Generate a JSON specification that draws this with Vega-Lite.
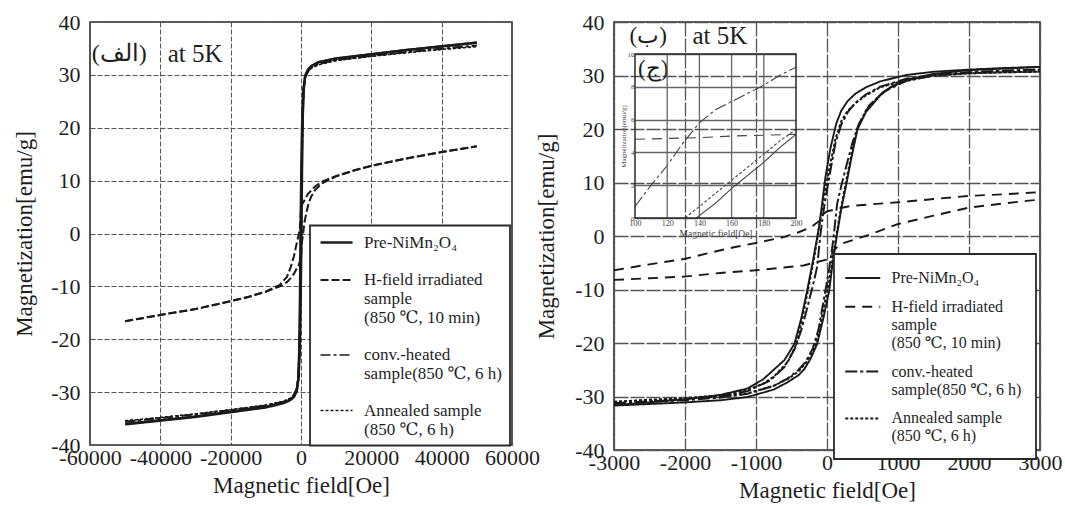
{
  "$schema": "https://vega.github.io/schema/vega-lite/v6.json",
  "background": "white",
  "padding": {"left": 12, "top": 10, "right": 0, "bottom": 0},
  "config": {
    "font": "Times New Roman, Liberation Serif, DejaVu Serif, serif",
    "view": {"stroke": "#2a2a2a", "strokeWidth": 1.6},
    "axis": {
      "labelFont": "Times New Roman, Liberation Serif, DejaVu Serif, serif",
      "titleFont": "Times New Roman, Liberation Serif, DejaVu Serif, serif",
      "labelFontSize": 22,
      "titleFontSize": 23,
      "titleFontWeight": "normal",
      "labelColor": "#1e1e1e",
      "titleColor": "#1e1e1e",
      "domain": false,
      "ticks": false,
      "gridColor": "#555555",
      "gridOpacity": 1,
      "gridWidth": 1,
      "labelFlush": false,
      "labelOverlap": false
    },
    "legend": {
      "labelFont": "Times New Roman, Liberation Serif, DejaVu Serif, serif",
      "labelColor": "#1e1e1e",
      "labelLimit": 400,
      "symbolStrokeColor": "#1a1a1a",
      "symbolStrokeWidth": 1.6,
      "fillColor": "white",
      "strokeColor": "#2a2a2a"
    }
  },
  "datasets": {
    "wide": [
      {"s":"pre","b":"up","H":-50000,"M":-36.0},{"s":"pre","b":"up","H":-40000,"M":-35.3},{"s":"pre","b":"up","H":-30000,"M":-34.6},{"s":"pre","b":"up","H":-20000,"M":-33.7},{"s":"pre","b":"up","H":-10000,"M":-32.8},{"s":"pre","b":"up","H":-5000,"M":-32.0},{"s":"pre","b":"up","H":-3000,"M":-31.4},{"s":"pre","b":"up","H":-2000,"M":-30.8},{"s":"pre","b":"up","H":-1200,"M":-29.6},{"s":"pre","b":"up","H":-700,"M":-27.5},{"s":"pre","b":"up","H":-400,"M":-23},{"s":"pre","b":"up","H":-200,"M":-17},{"s":"pre","b":"up","H":0,"M":-8},{"s":"pre","b":"up","H":140,"M":0},{"s":"pre","b":"up","H":300,"M":12},{"s":"pre","b":"up","H":500,"M":22},{"s":"pre","b":"up","H":800,"M":27.5},{"s":"pre","b":"up","H":1200,"M":29.8},{"s":"pre","b":"up","H":2000,"M":31.0},{"s":"pre","b":"up","H":3000,"M":31.7},{"s":"pre","b":"up","H":5000,"M":32.4},{"s":"pre","b":"up","H":10000,"M":33.1},{"s":"pre","b":"up","H":20000,"M":33.9},{"s":"pre","b":"up","H":30000,"M":34.7},{"s":"pre","b":"up","H":40000,"M":35.4},{"s":"pre","b":"up","H":50000,"M":36.1},
      {"s":"pre","b":"down","H":50000,"M":36.1},{"s":"pre","b":"down","H":40000,"M":35.4},{"s":"pre","b":"down","H":30000,"M":34.7},{"s":"pre","b":"down","H":20000,"M":33.9},{"s":"pre","b":"down","H":10000,"M":33.1},{"s":"pre","b":"down","H":5000,"M":32.4},{"s":"pre","b":"down","H":3000,"M":31.7},{"s":"pre","b":"down","H":2000,"M":31.0},{"s":"pre","b":"down","H":1200,"M":29.8},{"s":"pre","b":"down","H":700,"M":27.5},{"s":"pre","b":"down","H":400,"M":23},{"s":"pre","b":"down","H":200,"M":17},{"s":"pre","b":"down","H":0,"M":8},{"s":"pre","b":"down","H":-140,"M":0},{"s":"pre","b":"down","H":-300,"M":-12},{"s":"pre","b":"down","H":-500,"M":-22},{"s":"pre","b":"down","H":-800,"M":-27.5},{"s":"pre","b":"down","H":-1200,"M":-29.8},{"s":"pre","b":"down","H":-2000,"M":-30.9},{"s":"pre","b":"down","H":-3000,"M":-31.5},{"s":"pre","b":"down","H":-5000,"M":-32.1},{"s":"pre","b":"down","H":-10000,"M":-32.9},{"s":"pre","b":"down","H":-20000,"M":-33.8},{"s":"pre","b":"down","H":-30000,"M":-34.7},{"s":"pre","b":"down","H":-40000,"M":-35.4},{"s":"pre","b":"down","H":-50000,"M":-36.1},
      {"s":"conv","b":"up","H":-50000,"M":-35.6},{"s":"conv","b":"up","H":-40000,"M":-34.9},{"s":"conv","b":"up","H":-30000,"M":-34.2},{"s":"conv","b":"up","H":-20000,"M":-33.4},{"s":"conv","b":"up","H":-10000,"M":-32.5},{"s":"conv","b":"up","H":-5000,"M":-31.8},{"s":"conv","b":"up","H":-3000,"M":-31.2},{"s":"conv","b":"up","H":-2000,"M":-30.5},{"s":"conv","b":"up","H":-1200,"M":-29.2},{"s":"conv","b":"up","H":-700,"M":-27},{"s":"conv","b":"up","H":-400,"M":-22},{"s":"conv","b":"up","H":-200,"M":-15},{"s":"conv","b":"up","H":0,"M":-4},{"s":"conv","b":"up","H":100,"M":1},{"s":"conv","b":"up","H":300,"M":13},{"s":"conv","b":"up","H":500,"M":21.5},{"s":"conv","b":"up","H":800,"M":27},{"s":"conv","b":"up","H":1200,"M":29.4},{"s":"conv","b":"up","H":2000,"M":30.7},{"s":"conv","b":"up","H":3000,"M":31.4},{"s":"conv","b":"up","H":5000,"M":32.1},{"s":"conv","b":"up","H":10000,"M":32.8},{"s":"conv","b":"up","H":20000,"M":33.6},{"s":"conv","b":"up","H":30000,"M":34.3},{"s":"conv","b":"up","H":40000,"M":34.9},{"s":"conv","b":"up","H":50000,"M":35.5},
      {"s":"conv","b":"down","H":50000,"M":35.6},{"s":"conv","b":"down","H":40000,"M":35.0},{"s":"conv","b":"down","H":30000,"M":34.3},{"s":"conv","b":"down","H":20000,"M":33.6},{"s":"conv","b":"down","H":10000,"M":32.8},{"s":"conv","b":"down","H":5000,"M":32.1},{"s":"conv","b":"down","H":3000,"M":31.4},{"s":"conv","b":"down","H":2000,"M":30.7},{"s":"conv","b":"down","H":1200,"M":29.4},{"s":"conv","b":"down","H":700,"M":27},{"s":"conv","b":"down","H":400,"M":22},{"s":"conv","b":"down","H":200,"M":15},{"s":"conv","b":"down","H":0,"M":4},{"s":"conv","b":"down","H":-100,"M":-1},{"s":"conv","b":"down","H":-300,"M":-13},{"s":"conv","b":"down","H":-500,"M":-21.5},{"s":"conv","b":"down","H":-800,"M":-27},{"s":"conv","b":"down","H":-1200,"M":-29.3},{"s":"conv","b":"down","H":-2000,"M":-30.6},{"s":"conv","b":"down","H":-3000,"M":-31.3},{"s":"conv","b":"down","H":-5000,"M":-31.9},{"s":"conv","b":"down","H":-10000,"M":-32.6},{"s":"conv","b":"down","H":-20000,"M":-33.4},{"s":"conv","b":"down","H":-30000,"M":-34.2},{"s":"conv","b":"down","H":-40000,"M":-34.9},{"s":"conv","b":"down","H":-50000,"M":-35.6},
      {"s":"anneal","b":"up","H":-50000,"M":-35.4},{"s":"anneal","b":"up","H":-40000,"M":-34.8},{"s":"anneal","b":"up","H":-30000,"M":-34.1},{"s":"anneal","b":"up","H":-20000,"M":-33.3},{"s":"anneal","b":"up","H":-10000,"M":-32.4},{"s":"anneal","b":"up","H":-5000,"M":-31.7},{"s":"anneal","b":"up","H":-3000,"M":-31.1},{"s":"anneal","b":"up","H":-2000,"M":-30.4},{"s":"anneal","b":"up","H":-1200,"M":-29.3},{"s":"anneal","b":"up","H":-700,"M":-27.2},{"s":"anneal","b":"up","H":-400,"M":-22.5},{"s":"anneal","b":"up","H":-200,"M":-16},{"s":"anneal","b":"up","H":0,"M":-6},{"s":"anneal","b":"up","H":130,"M":0},{"s":"anneal","b":"up","H":300,"M":12.5},{"s":"anneal","b":"up","H":500,"M":21.8},{"s":"anneal","b":"up","H":800,"M":27.2},{"s":"anneal","b":"up","H":1200,"M":29.5},{"s":"anneal","b":"up","H":2000,"M":30.6},{"s":"anneal","b":"up","H":3000,"M":31.3},{"s":"anneal","b":"up","H":5000,"M":31.9},{"s":"anneal","b":"up","H":10000,"M":32.7},{"s":"anneal","b":"up","H":20000,"M":33.5},{"s":"anneal","b":"up","H":30000,"M":34.2},{"s":"anneal","b":"up","H":40000,"M":34.8},{"s":"anneal","b":"up","H":50000,"M":35.3},
      {"s":"anneal","b":"down","H":50000,"M":35.4},{"s":"anneal","b":"down","H":40000,"M":34.8},{"s":"anneal","b":"down","H":30000,"M":34.2},{"s":"anneal","b":"down","H":20000,"M":33.5},{"s":"anneal","b":"down","H":10000,"M":32.7},{"s":"anneal","b":"down","H":5000,"M":31.9},{"s":"anneal","b":"down","H":3000,"M":31.3},{"s":"anneal","b":"down","H":2000,"M":30.6},{"s":"anneal","b":"down","H":1200,"M":29.5},{"s":"anneal","b":"down","H":700,"M":27.2},{"s":"anneal","b":"down","H":400,"M":22.5},{"s":"anneal","b":"down","H":200,"M":16},{"s":"anneal","b":"down","H":0,"M":6},{"s":"anneal","b":"down","H":-130,"M":0},{"s":"anneal","b":"down","H":-300,"M":-12.5},{"s":"anneal","b":"down","H":-500,"M":-21.8},{"s":"anneal","b":"down","H":-800,"M":-27.2},{"s":"anneal","b":"down","H":-1200,"M":-29.4},{"s":"anneal","b":"down","H":-2000,"M":-30.5},{"s":"anneal","b":"down","H":-3000,"M":-31.2},{"s":"anneal","b":"down","H":-5000,"M":-31.8},{"s":"anneal","b":"down","H":-10000,"M":-32.5},{"s":"anneal","b":"down","H":-20000,"M":-33.3},{"s":"anneal","b":"down","H":-30000,"M":-34.1},{"s":"anneal","b":"down","H":-40000,"M":-34.8},{"s":"anneal","b":"down","H":-50000,"M":-35.4},
      {"s":"hfield","b":"up","H":-50000,"M":-16.6},{"s":"hfield","b":"up","H":-40000,"M":-15.4},{"s":"hfield","b":"up","H":-30000,"M":-14.3},{"s":"hfield","b":"up","H":-20000,"M":-12.8},{"s":"hfield","b":"up","H":-15000,"M":-12.0},{"s":"hfield","b":"up","H":-10000,"M":-11.0},{"s":"hfield","b":"up","H":-6000,"M":-10.0},{"s":"hfield","b":"up","H":-4000,"M":-9.2},{"s":"hfield","b":"up","H":-3000,"M":-8.5},{"s":"hfield","b":"up","H":-2000,"M":-7.6},{"s":"hfield","b":"up","H":-1300,"M":-6.7},{"s":"hfield","b":"up","H":-600,"M":-5.9},{"s":"hfield","b":"up","H":0,"M":-4.4},{"s":"hfield","b":"up","H":300,"M":-1.5},{"s":"hfield","b":"up","H":600,"M":0.0},{"s":"hfield","b":"up","H":1000,"M":2.2},{"s":"hfield","b":"up","H":1500,"M":3.8},{"s":"hfield","b":"up","H":2000,"M":5.3},{"s":"hfield","b":"up","H":2500,"M":6.3},{"s":"hfield","b":"up","H":3000,"M":7.1},{"s":"hfield","b":"up","H":4000,"M":8.2},{"s":"hfield","b":"up","H":6000,"M":9.5},{"s":"hfield","b":"up","H":10000,"M":10.8},{"s":"hfield","b":"up","H":15000,"M":11.9},{"s":"hfield","b":"up","H":20000,"M":12.8},{"s":"hfield","b":"up","H":30000,"M":14.2},{"s":"hfield","b":"up","H":40000,"M":15.4},{"s":"hfield","b":"up","H":50000,"M":16.5},
      {"s":"hfield","b":"down","H":50000,"M":16.5},{"s":"hfield","b":"down","H":40000,"M":15.4},{"s":"hfield","b":"down","H":30000,"M":14.2},{"s":"hfield","b":"down","H":20000,"M":12.8},{"s":"hfield","b":"down","H":15000,"M":11.9},{"s":"hfield","b":"down","H":10000,"M":10.9},{"s":"hfield","b":"down","H":6000,"M":9.8},{"s":"hfield","b":"down","H":4000,"M":8.9},{"s":"hfield","b":"down","H":3000,"M":8.2},{"s":"hfield","b":"down","H":2000,"M":7.5},{"s":"hfield","b":"down","H":1000,"M":6.3},{"s":"hfield","b":"down","H":300,"M":5.5},{"s":"hfield","b":"down","H":0,"M":4.6},{"s":"hfield","b":"down","H":-300,"M":1.2},{"s":"hfield","b":"down","H":-600,"M":0.0},{"s":"hfield","b":"down","H":-1300,"M":-2.1},{"s":"hfield","b":"down","H":-2000,"M":-4.3},{"s":"hfield","b":"down","H":-2500,"M":-5.4},{"s":"hfield","b":"down","H":-3000,"M":-6.5},{"s":"hfield","b":"down","H":-4000,"M":-8.2},{"s":"hfield","b":"down","H":-6000,"M":-9.7},{"s":"hfield","b":"down","H":-10000,"M":-11.0},{"s":"hfield","b":"down","H":-15000,"M":-12.0},{"s":"hfield","b":"down","H":-20000,"M":-12.8},{"s":"hfield","b":"down","H":-30000,"M":-14.3},{"s":"hfield","b":"down","H":-40000,"M":-15.4},{"s":"hfield","b":"down","H":-50000,"M":-16.6}
    ],
    "narrow": [
      {"s":"pre","b":"down","H":3000,"M":31.6},{"s":"pre","b":"down","H":2500,"M":31.4},{"s":"pre","b":"down","H":2000,"M":31.1},{"s":"pre","b":"down","H":1500,"M":30.7},{"s":"pre","b":"down","H":1120,"M":30.1},{"s":"pre","b":"down","H":750,"M":28.9},{"s":"pre","b":"down","H":550,"M":27.8},{"s":"pre","b":"down","H":400,"M":26.6},{"s":"pre","b":"down","H":290,"M":25.2},{"s":"pre","b":"down","H":200,"M":23.4},{"s":"pre","b":"down","H":130,"M":21.0},{"s":"pre","b":"down","H":50,"M":16.5},{"s":"pre","b":"down","H":-20,"M":11.2},{"s":"pre","b":"down","H":-60,"M":7.0},{"s":"pre","b":"down","H":-100,"M":2.8},{"s":"pre","b":"down","H":-135,"M":0.0},{"s":"pre","b":"down","H":-200,"M":-4.8},{"s":"pre","b":"down","H":-280,"M":-10.2},{"s":"pre","b":"down","H":-360,"M":-15.3},{"s":"pre","b":"down","H":-460,"M":-20.2},{"s":"pre","b":"down","H":-600,"M":-23.2},{"s":"pre","b":"down","H":-750,"M":-25.0},{"s":"pre","b":"down","H":-900,"M":-26.8},{"s":"pre","b":"down","H":-1120,"M":-28.5},{"s":"pre","b":"down","H":-1500,"M":-29.7},{"s":"pre","b":"down","H":-2000,"M":-30.5},{"s":"pre","b":"down","H":-2500,"M":-31.1},{"s":"pre","b":"down","H":-3000,"M":-31.6},
      {"s":"pre","b":"up","H":-3000,"M":-31.7},{"s":"pre","b":"up","H":-2500,"M":-31.4},{"s":"pre","b":"up","H":-2000,"M":-31.1},{"s":"pre","b":"up","H":-1500,"M":-30.7},{"s":"pre","b":"up","H":-1120,"M":-30.1},{"s":"pre","b":"up","H":-750,"M":-28.7},{"s":"pre","b":"up","H":-550,"M":-27.3},{"s":"pre","b":"up","H":-400,"M":-26.0},{"s":"pre","b":"up","H":-320,"M":-24.9},{"s":"pre","b":"up","H":-230,"M":-22.9},{"s":"pre","b":"up","H":-140,"M":-20.2},{"s":"pre","b":"up","H":-50,"M":-15.3},{"s":"pre","b":"up","H":30,"M":-10.3},{"s":"pre","b":"up","H":80,"M":-5.0},{"s":"pre","b":"up","H":138,"M":0.0},{"s":"pre","b":"up","H":200,"M":5.0},{"s":"pre","b":"up","H":277,"M":10.0},{"s":"pre","b":"up","H":350,"M":15.0},{"s":"pre","b":"up","H":430,"M":20.0},{"s":"pre","b":"up","H":550,"M":23.2},{"s":"pre","b":"up","H":750,"M":26.3},{"s":"pre","b":"up","H":900,"M":27.9},{"s":"pre","b":"up","H":1120,"M":29.2},{"s":"pre","b":"up","H":1500,"M":30.3},{"s":"pre","b":"up","H":2000,"M":31.0},{"s":"pre","b":"up","H":2500,"M":31.3},{"s":"pre","b":"up","H":3000,"M":31.6},
      {"s":"conv","b":"up","H":-3000,"M":-31.3},{"s":"conv","b":"up","H":-2500,"M":-31.0},{"s":"conv","b":"up","H":-2000,"M":-30.7},{"s":"conv","b":"up","H":-1500,"M":-30.2},{"s":"conv","b":"up","H":-1120,"M":-29.5},{"s":"conv","b":"up","H":-750,"M":-28.0},{"s":"conv","b":"up","H":-550,"M":-26.6},{"s":"conv","b":"up","H":-400,"M":-25.0},{"s":"conv","b":"up","H":-300,"M":-23.5},{"s":"conv","b":"up","H":-200,"M":-21.0},{"s":"conv","b":"up","H":-120,"M":-17.5},{"s":"conv","b":"up","H":-40,"M":-11.5},{"s":"conv","b":"up","H":20,"M":-7.0},{"s":"conv","b":"up","H":60,"M":-3.5},{"s":"conv","b":"up","H":95,"M":0.0},{"s":"conv","b":"up","H":120,"M":3.3},{"s":"conv","b":"up","H":143,"M":6.0},{"s":"conv","b":"up","H":175,"M":7.9},{"s":"conv","b":"up","H":200,"M":9.3},{"s":"conv","b":"up","H":280,"M":13.5},{"s":"conv","b":"up","H":360,"M":17.5},{"s":"conv","b":"up","H":450,"M":21.0},{"s":"conv","b":"up","H":600,"M":24.5},{"s":"conv","b":"up","H":800,"M":27.0},{"s":"conv","b":"up","H":1120,"M":29.0},{"s":"conv","b":"up","H":1500,"M":30.0},{"s":"conv","b":"up","H":2000,"M":30.6},{"s":"conv","b":"up","H":2500,"M":30.9},{"s":"conv","b":"up","H":3000,"M":31.1},
      {"s":"conv","b":"down","H":3000,"M":31.1},{"s":"conv","b":"down","H":2500,"M":30.9},{"s":"conv","b":"down","H":2000,"M":30.6},{"s":"conv","b":"down","H":1500,"M":30.1},{"s":"conv","b":"down","H":1120,"M":29.4},{"s":"conv","b":"down","H":750,"M":27.9},{"s":"conv","b":"down","H":550,"M":26.5},{"s":"conv","b":"down","H":400,"M":24.9},{"s":"conv","b":"down","H":300,"M":23.3},{"s":"conv","b":"down","H":200,"M":20.8},{"s":"conv","b":"down","H":120,"M":17.4},{"s":"conv","b":"down","H":40,"M":11.6},{"s":"conv","b":"down","H":-20,"M":7.2},{"s":"conv","b":"down","H":-60,"M":3.6},{"s":"conv","b":"down","H":-95,"M":0.0},{"s":"conv","b":"down","H":-120,"M":-3.3},{"s":"conv","b":"down","H":-143,"M":-6.0},{"s":"conv","b":"down","H":-175,"M":-7.9},{"s":"conv","b":"down","H":-200,"M":-9.3},{"s":"conv","b":"down","H":-280,"M":-13.5},{"s":"conv","b":"down","H":-360,"M":-17.5},{"s":"conv","b":"down","H":-450,"M":-21.0},{"s":"conv","b":"down","H":-600,"M":-24.5},{"s":"conv","b":"down","H":-800,"M":-27.0},{"s":"conv","b":"down","H":-1120,"M":-29.0},{"s":"conv","b":"down","H":-1500,"M":-30.0},{"s":"conv","b":"down","H":-2000,"M":-30.6},{"s":"conv","b":"down","H":-2500,"M":-30.9},{"s":"conv","b":"down","H":-3000,"M":-31.2},
      {"s":"anneal","b":"up","H":-3000,"M":-31.0},{"s":"anneal","b":"up","H":-2500,"M":-30.7},{"s":"anneal","b":"up","H":-2000,"M":-30.4},{"s":"anneal","b":"up","H":-1500,"M":-30.0},{"s":"anneal","b":"up","H":-1120,"M":-29.4},{"s":"anneal","b":"up","H":-750,"M":-28.0},{"s":"anneal","b":"up","H":-550,"M":-26.7},{"s":"anneal","b":"up","H":-400,"M":-25.3},{"s":"anneal","b":"up","H":-300,"M":-23.8},{"s":"anneal","b":"up","H":-200,"M":-21.5},{"s":"anneal","b":"up","H":-120,"M":-18.3},{"s":"anneal","b":"up","H":-40,"M":-13.0},{"s":"anneal","b":"up","H":30,"M":-8.5},{"s":"anneal","b":"up","H":80,"M":-4.2},{"s":"anneal","b":"up","H":131,"M":0.0},{"s":"anneal","b":"up","H":170,"M":3.2},{"s":"anneal","b":"up","H":200,"M":5.4},{"s":"anneal","b":"up","H":270,"M":10.3},{"s":"anneal","b":"up","H":350,"M":15.6},{"s":"anneal","b":"up","H":430,"M":20.2},{"s":"anneal","b":"up","H":550,"M":23.5},{"s":"anneal","b":"up","H":750,"M":26.4},{"s":"anneal","b":"up","H":900,"M":27.8},{"s":"anneal","b":"up","H":1120,"M":29.0},{"s":"anneal","b":"up","H":1500,"M":30.0},{"s":"anneal","b":"up","H":2000,"M":30.4},{"s":"anneal","b":"up","H":2500,"M":30.6},{"s":"anneal","b":"up","H":3000,"M":30.7},
      {"s":"anneal","b":"down","H":3000,"M":30.7},{"s":"anneal","b":"down","H":2500,"M":30.6},{"s":"anneal","b":"down","H":2000,"M":30.4},{"s":"anneal","b":"down","H":1500,"M":30.0},{"s":"anneal","b":"down","H":1120,"M":29.2},{"s":"anneal","b":"down","H":750,"M":27.8},{"s":"anneal","b":"down","H":550,"M":26.3},{"s":"anneal","b":"down","H":400,"M":24.8},{"s":"anneal","b":"down","H":290,"M":23.4},{"s":"anneal","b":"down","H":200,"M":21.4},{"s":"anneal","b":"down","H":120,"M":18.2},{"s":"anneal","b":"down","H":40,"M":13.0},{"s":"anneal","b":"down","H":-30,"M":8.4},{"s":"anneal","b":"down","H":-80,"M":4.2},{"s":"anneal","b":"down","H":-131,"M":0.0},{"s":"anneal","b":"down","H":-170,"M":-3.2},{"s":"anneal","b":"down","H":-200,"M":-5.4},{"s":"anneal","b":"down","H":-270,"M":-10.3},{"s":"anneal","b":"down","H":-350,"M":-15.6},{"s":"anneal","b":"down","H":-430,"M":-20.2},{"s":"anneal","b":"down","H":-550,"M":-23.5},{"s":"anneal","b":"down","H":-750,"M":-26.3},{"s":"anneal","b":"down","H":-900,"M":-27.6},{"s":"anneal","b":"down","H":-1120,"M":-28.8},{"s":"anneal","b":"down","H":-1500,"M":-29.8},{"s":"anneal","b":"down","H":-2000,"M":-30.3},{"s":"anneal","b":"down","H":-2500,"M":-30.6},{"s":"anneal","b":"down","H":-3000,"M":-31.0},
      {"s":"hfield","b":"down","H":3000,"M":8.2},{"s":"hfield","b":"down","H":2500,"M":7.8},{"s":"hfield","b":"down","H":2000,"M":7.5},{"s":"hfield","b":"down","H":1500,"M":6.9},{"s":"hfield","b":"down","H":1000,"M":6.3},{"s":"hfield","b":"down","H":600,"M":5.9},{"s":"hfield","b":"down","H":330,"M":5.6},{"s":"hfield","b":"down","H":150,"M":5.1},{"s":"hfield","b":"down","H":0,"M":4.6},{"s":"hfield","b":"down","H":-60,"M":4.0},{"s":"hfield","b":"down","H":-100,"M":2.9},{"s":"hfield","b":"down","H":-230,"M":1.6},{"s":"hfield","b":"down","H":-400,"M":0.7},{"s":"hfield","b":"down","H":-610,"M":-0.2},{"s":"hfield","b":"down","H":-1000,"M":-1.3},{"s":"hfield","b":"down","H":-1310,"M":-2.1},{"s":"hfield","b":"down","H":-1700,"M":-3.3},{"s":"hfield","b":"down","H":-2014,"M":-4.3},{"s":"hfield","b":"down","H":-2500,"M":-5.3},{"s":"hfield","b":"down","H":-3000,"M":-6.4},
      {"s":"hfield","b":"up","H":-3000,"M":-8.2},{"s":"hfield","b":"up","H":-2500,"M":-7.9},{"s":"hfield","b":"up","H":-2014,"M":-7.6},{"s":"hfield","b":"up","H":-1500,"M":-6.9},{"s":"hfield","b":"up","H":-1000,"M":-6.4},{"s":"hfield","b":"up","H":-606,"M":-5.9},{"s":"hfield","b":"up","H":-330,"M":-5.5},{"s":"hfield","b":"up","H":-180,"M":-5.0},{"s":"hfield","b":"up","H":0,"M":-4.4},{"s":"hfield","b":"up","H":60,"M":-3.6},{"s":"hfield","b":"up","H":100,"M":-2.6},{"s":"hfield","b":"up","H":193,"M":-1.5},{"s":"hfield","b":"up","H":400,"M":-0.6},{"s":"hfield","b":"up","H":610,"M":0.3},{"s":"hfield","b":"up","H":991,"M":2.2},{"s":"hfield","b":"up","H":1500,"M":3.8},{"s":"hfield","b":"up","H":2000,"M":5.3},{"s":"hfield","b":"up","H":2500,"M":6.1},{"s":"hfield","b":"up","H":2911,"M":6.7},{"s":"hfield","b":"up","H":3000,"M":6.9}
    ],
    "inset": [
      {"s":"pre","H":138,"M":0},{"s":"pre","H":150,"M":0.9},{"s":"pre","H":160,"M":1.8},{"s":"pre","H":170,"M":2.6},{"s":"pre","H":180,"M":3.4},{"s":"pre","H":190,"M":4.3},{"s":"pre","H":200,"M":5.1},
      {"s":"anneal","H":131,"M":0},{"s":"anneal","H":140,"M":0.7},{"s":"anneal","H":150,"M":1.5},{"s":"anneal","H":160,"M":2.3},{"s":"anneal","H":170,"M":3.1},{"s":"anneal","H":180,"M":3.9},{"s":"anneal","H":190,"M":4.7},{"s":"anneal","H":200,"M":5.4},
      {"s":"conv","H":100,"M":0.7},{"s":"conv","H":110,"M":2.0},{"s":"conv","H":120,"M":3.2},{"s":"conv","H":130,"M":4.6},{"s":"conv","H":140,"M":5.8},{"s":"conv","H":150,"M":6.6},{"s":"conv","H":160,"M":7.1},{"s":"conv","H":170,"M":7.6},{"s":"conv","H":180,"M":8.1},{"s":"conv","H":190,"M":8.7},{"s":"conv","H":200,"M":9.2},
      {"s":"hfield","H":100,"M":4.8},{"s":"hfield","H":120,"M":4.85},{"s":"hfield","H":140,"M":4.9},{"s":"hfield","H":160,"M":5.0},{"s":"hfield","H":180,"M":5.05},{"s":"hfield","H":200,"M":5.1}
    ],
    "insetGrid": [{"H":120},{"H":140},{"H":160},{"H":180}]
  },
  "bounds": "flush",
  "spacing": 102,
  "resolve": {
    "scale": {"x": "independent", "y": "independent", "strokeDash": "independent", "strokeWidth": "independent"},
    "legend": {"strokeDash": "independent"}
  },
  "hconcat": [
    {
      "width": 422,
      "height": 423,
      "layer": [
        {
          "data": {"name": "wide"},
          "mark": {"type": "line", "color": "#1a1a1a", "clip": true},
          "encoding": {
            "x": {
              "field": "H", "type": "quantitative",
              "scale": {"domain": [-60000, 60000], "nice": false, "zero": false},
              "axis": {"title": "Magnetic field[Oe]", "values": [-60000, -40000, -20000, 0, 20000, 40000, 60000], "labelExpr": "toString(datum.value)", "grid": true, "gridDash": [5, 2], "labelPadding": 2, "titlePadding": 6}
            },
            "y": {
              "field": "M", "type": "quantitative",
              "scale": {"domain": [-40, 40], "nice": false, "zero": false},
              "axis": {"title": "Magnetization[emu/g]", "values": [-40, -30, -20, -10, 0, 10, 20, 30, 40], "labelExpr": "toString(datum.value)", "grid": true, "gridDash": [5, 2], "labelPadding": 10, "titlePadding": 14}
            },
            "detail": {"field": "b"},
            "strokeWidth": {
              "field": "s", "type": "nominal",
              "scale": {"domain": ["pre", "hfield", "conv", "anneal"], "range": [2.4, 1.3, 1.6, 1.4]},
              "legend": null
            },
            "strokeDash": {
              "field": "s", "type": "nominal",
              "scale": {"domain": ["pre", "hfield", "conv", "anneal"], "range": [[1, 0], [8, 3], [10, 3, 3, 3], [3, 2]]},
              "legend": {
                "title": null,
                "orient": "none",
                "legendX": 220,
                "legendY": 203.5,
                "labelExpr": "datum.value === 'pre' ? 'Pre-NiMn₂O₄' : datum.value === 'hfield' ? ['H-field irradiated', 'sample', '(850 ℃, 10 min)'] : datum.value === 'conv' ? ['conv.-heated', 'sample(850 ℃, 6 h)'] : ['Annealed sample', '(850 ℃, 6 h)']",
                "labelFontSize": 17,
                "symbolType": "M-0.81,0H3.19",
                "symbolSize": 256,
                "labelOffset": 27.5,
                "padding": 7.5,
                "rowPadding": 19.5,
                "encode": {"legend": {"update": {"strokeWidth": {"value": 1.8}}}}
              }
            }
          }
        },
        {
          "data": {"values": [{}]},
          "mark": {"type": "text", "font": "Times New Roman, Liberation Serif, DejaVu Serif, serif", "fontSize": 24, "align": "center", "baseline": "middle", "color": "#1e1e1e"},
          "encoding": {
            "x": {"datum": -51700, "type": "quantitative"},
            "y": {"datum": 34, "type": "quantitative"},
            "text": {"value": "(الف)"}
          }
        },
        {
          "data": {"values": [{}]},
          "mark": {"type": "text", "font": "Times New Roman, Liberation Serif, DejaVu Serif, serif", "fontSize": 25, "align": "left", "baseline": "middle", "color": "#1e1e1e"},
          "encoding": {
            "x": {"datum": -37900, "type": "quantitative"},
            "y": {"datum": 34, "type": "quantitative"},
            "text": {"value": "at 5K"}
          }
        }
      ]
    },
    {
      "width": 426,
      "height": 428,
      "layer": [
        {
          "layer": [
            {
              "data": {"name": "narrow"},
              "mark": {"type": "line", "color": "#1a1a1a", "clip": true},
              "encoding": {
                "x": {
                  "field": "H", "type": "quantitative",
                  "scale": {"domain": [-3000, 3000], "nice": false, "zero": false},
                  "axis": {"title": "Magnetic field[Oe]", "values": [-3000, -2000, -1000, 0, 1000, 2000, 3000], "labelExpr": "toString(datum.value)", "grid": true, "gridDash": [14, 2], "gridWidth": 1.3, "labelPadding": 2, "titlePadding": 6}
                },
                "y": {
                  "field": "M", "type": "quantitative",
                  "scale": {"domain": [-40, 40], "nice": false, "zero": false},
                  "axis": {"title": "Magnetization[emu/g]", "values": [-40, -30, -20, -10, 0, 10, 20, 30, 40], "labelExpr": "toString(datum.value)", "grid": true, "gridDash": [14, 2], "gridWidth": 1.3, "labelPadding": 10, "titlePadding": 16}
                },
                "detail": {"field": "b"},
                "strokeWidth": {
                  "field": "s", "type": "nominal",
                  "scale": {"domain": ["pre", "hfield", "conv", "anneal"], "range": [1.9, 2.0, 1.5, 1.4]},
                  "legend": null
                },
                "strokeDash": {
                  "field": "s", "type": "nominal",
                  "scale": {"domain": ["pre", "hfield", "conv", "anneal"], "range": [[1, 0], [10, 7], [12, 3, 3, 3], [3, 2]]},
                  "legend": {
                    "title": null,
                    "orient": "none",
                    "legendX": 220,
                    "legendY": 232,
                    "labelExpr": "datum.value === 'pre' ? 'Pre-NiMn₂O₄' : datum.value === 'hfield' ? ['H-field irradiated', 'sample', '(850 ℃, 10 min)'] : datum.value === 'conv' ? ['conv.-heated', 'sample(850 ℃, 6 h)'] : ['Annealed sample', '(850 ℃, 6 h)']",
                    "labelFontSize": 16,
                    "symbolType": "M-1.457,0H2.543",
                    "symbolSize": 306,
                    "labelOffset": 23.5,
                    "padding": 14,
                    "rowPadding": 10.8,
                    "encode": {"legend": {"update": {"strokeWidth": {"value": 1.8}}}}
                  }
                }
              }
            },
            {
              "data": {"values": [{}]},
              "mark": {"type": "text", "fontSize": 23, "align": "center", "baseline": "middle", "color": "#1e1e1e"},
              "encoding": {
                "x": {"datum": -2518, "type": "quantitative"},
                "y": {"datum": 37.3, "type": "quantitative"},
                "text": {"value": "(ب)"}
              }
            },
            {
              "data": {"values": [{}]},
              "mark": {"type": "text", "font": "Times New Roman, Liberation Serif, DejaVu Serif, serif", "fontSize": 25, "align": "left", "baseline": "middle", "color": "#1e1e1e"},
              "encoding": {
                "x": {"datum": -1896, "type": "quantitative"},
                "y": {"datum": 37.3, "type": "quantitative"},
                "text": {"value": "at 5K"}
              }
            },
            {
              "data": {"values": [{}]},
              "mark": {"type": "text", "fontSize": 23, "align": "center", "baseline": "middle", "color": "#1e1e1e"},
              "encoding": {
                "x": {"datum": -2448, "type": "quantitative"},
                "y": {"datum": 31.2, "type": "quantitative"},
                "text": {"value": "(ج)"}
              }
            }
          ]
        },
        {
          "layer": [
            {
              "data": {"name": "inset"},
              "mark": {"type": "line", "color": "#444444", "strokeWidth": 1.1},
              "encoding": {
                "x": {
                  "field": "H", "type": "quantitative",
                  "scale": {"domain": [100, 200], "range": [21, 182], "nice": false, "zero": false},
                  "axis": {"orient": "bottom", "offset": -232, "title": "Magnetic field[Oe]", "values": [100, 120, 140, 160, 180, 200], "labelFontSize": 8, "titleFontSize": 9.5, "labelColor": "#444444", "titleColor": "#444444", "labelPadding": 1, "titlePadding": 1, "grid": false}
                },
                "y": {
                  "field": "M", "type": "quantitative",
                  "scale": {"domain": [0, 10], "range": [196, 32], "nice": false, "zero": false},
                  "axis": {"orient": "left", "offset": -21, "title": "Magnetization[emu/g]", "values": [0, 2, 4, 6, 8, 10], "labelFontSize": 7, "titleFontSize": 7, "labelColor": "#444444", "titleColor": "#444444", "labelPadding": 1, "titlePadding": 1, "grid": true, "gridDash": [], "gridColor": "#666666", "gridWidth": 1.3}
                },
                "strokeDash": {"field": "s", "type": "nominal"}
              }
            },
            {
              "data": {"name": "insetGrid"},
              "mark": {"type": "rule", "color": "#666666", "strokeWidth": 1.3},
              "encoding": {
                "x": {"field": "H", "type": "quantitative"},
                "y": {"datum": 0, "type": "quantitative"},
                "y2": {"datum": 10}
              }
            },
            {
              "data": {"values": [{}]},
              "mark": {"type": "rect", "filled": false, "color": "#2a2a2a", "strokeWidth": 1.5},
              "encoding": {
                "x": {"datum": 100, "type": "quantitative"},
                "x2": {"datum": 200},
                "y": {"datum": 0, "type": "quantitative"},
                "y2": {"datum": 10}
              }
            }
          ]
        }
      ],
      "resolve": {
        "scale": {"x": "independent", "y": "independent"},
        "axis": {"x": "independent", "y": "independent"}
      }
    }
  ]
}
